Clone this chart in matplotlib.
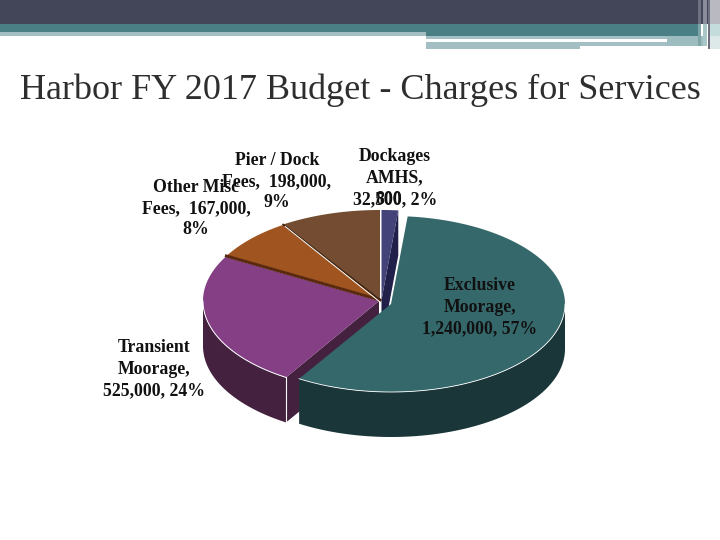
# Harbor FY 2017 budget slide - fake 3D exploded pie
import numpy as np
import matplotlib.pyplot as plt
from matplotlib.patches import Polygon, Rectangle

# -------------------------------
# DATA
# -------------------------------
names = ["Dockages", "AMHS", "Exclusive Moorage", "Transient Moorage", "Other Misc Fees", "Pier / Dock Fees"]
values = [32500, 500, 1240000, 525000, 167000, 198000]

title = "Harbor FY 2017 Budget - Charges for Services"
label_pier = "Pier / Dock\nFees,  198,000,\n9%"
label_other = "Other Misc\nFees,  167,000,\n8%"
label_dock = "Dockages\nAMHS,\n32,500, 2%"
label_amhs = "800"
label_excl = "Exclusive\nMoorage,\n1,240,000, 57%"
label_trans = "Transient\nMoorage,\n525,000, 24%"

top_colors = ["#43437a", "#20204a", "#35686b", "#843f85", "#a0541f", "#744c31"]
wall_colors = ["#20204a", "#20204a", "#1b3638", "#43213f", "#5a2a10", "#4a2e1c"]

# -------------------------------
# GEOMETRY
# -------------------------------
DEPTH = 45
centers = [(381.5, 300), (381.5, 300), (391, 304), (379, 301), (380, 300), (380, 300)]
radii = [(178, 90), (178, 90), (174, 88), (176, 90), (176, 90), (178, 90)]

plt.rcParams['font.family'] = ['Liberation Serif', 'DejaVu Serif']

fig = plt.figure(figsize=(7.2, 5.4), dpi=100)
ax = fig.add_axes([0, 0, 1, 1])
ax.set_xlim(0, 720)
ax.set_ylim(540, 0)
ax.axis("off")

# -------------------------------
# HEADER BANDS
# -------------------------------
def band(x0, x1, y0, y1, c):
    ax.add_patch(Rectangle((x0, y0), x1 - x0, y1 - y0, fc=c, ec="none"))

band(0, 720, 0, 24, "#434558")
band(0, 426, 24, 32, "#4a8085")
band(0, 426, 32, 36, "#a4bfc3")
band(426, 700, 24, 36, "#4a8085")
band(426, 700, 36, 39, "#a4bfc3")
band(426, 580, 42, 49, "#a4bfc3")
band(580, 705, 42, 46, "#a4bfc3")
band(667, 705, 36, 46, "#9cbcc0")
band(698, 701, 0, 24, "#6f7082")
band(698, 701, 24, 46, "#7fa5a8")
band(703, 707, 0, 24, "#8c8d9c")
band(703, 707, 24, 46, "#a9c6c8")
band(708, 710, 0, 49, "#6d6e7e")
band(710, 720, 0, 24, "#b9b9c2")
band(710, 720, 24, 36, "#c5dcdc")
band(710, 720, 36, 49, "#dde9e9")

ax.text(360, 90, title, ha="center", va="center", fontsize=26, color="#2e2e2e")

# -------------------------------
# PIE
# -------------------------------
def rim(i, a):
    a = np.radians(a)
    cx, cy = centers[i]
    rx, ry = radii[i]
    return cx + rx * np.sin(a), cy - ry * np.cos(a)

total = sum(values)
angles = np.cumsum([0] + values) / total * 360

def top_pts(i):
    t = np.linspace(angles[i], angles[i + 1], 120)
    x, y = rim(i, t)
    return np.column_stack([np.r_[centers[i][0], x], np.r_[centers[i][1], y]])

def outer_wall(i, c, z=2):
    a0 = max(angles[i], 90)
    a1 = min(angles[i + 1], 270)
    if a1 <= a0:
        return
    t = np.linspace(a0, a1, 120)
    x, y = rim(i, t)
    pts = np.column_stack([np.r_[x, x[::-1]], np.r_[y, y[::-1] + DEPTH]])
    ax.add_patch(Polygon(pts, fc=c, ec="none", zorder=z))

def cut_wall(i, a, c, z=2):
    cx, cy = centers[i]
    x, y = rim(i, a)
    pts = [(cx, cy), (x, y), (x, y + DEPTH), (cx, cy + DEPTH)]
    ax.add_patch(Polygon(pts, fc=c, ec="none", zorder=z))

# back to front: these cut walls sit under the exclusive slice
cut_wall(3, angles[3], wall_colors[3])
cut_wall(0, angles[1], wall_colors[0])
outer_wall(3, wall_colors[3])

for i in [5, 4, 3, 0]:
    ax.add_patch(Polygon(top_pts(i), fc=top_colors[i], ec="none", zorder=3))

# separators between the left slices
for i, c, w in [(4, "#5a2a10", 2.2), (5, "#3c2412", 1.2)]:
    x, y = rim(i, angles[i])
    ax.plot([centers[i][0], x], [centers[i][1], y], color=c, lw=w, zorder=4)
x, y = rim(5, angles[5])
ax.plot([centers[5][0], x + 2], [centers[5][1] + 2, y + 2], color="white", lw=0.7, zorder=4)

# white gap between the exclusive slice and what lies behind it
x, y = rim(2, angles[2])
ax.plot([centers[2][0], x], [centers[2][1], y], color="white", lw=1.6, zorder=5)

# exclusive slice goes on top
outer_wall(2, wall_colors[2], z=5)
ax.add_patch(Polygon(top_pts(2), fc=top_colors[2], ec="none", zorder=6))

# white highlights along the edges
t = np.linspace(angles[3], 270, 80)
x, y = rim(3, t)
ax.plot(x, y, color="white", lw=0.7, zorder=4)
x0, y0 = rim(3, angles[3])
ax.plot([x0, x0], [y0, y0 + DEPTH], color="white", lw=0.8, zorder=4)
t = np.linspace(90, angles[3], 120)
x, y = rim(2, t)
ax.plot(x, y, color="white", lw=0.6, zorder=7)

# -------------------------------
# LABELS
# -------------------------------
def label(x, y, s):
    ax.text(x, y, s, ha="center", va="center", fontsize=12.8, fontweight="bold",
            color="#111111", linespacing=1.34, zorder=10)

label(277, 181.5, label_pier)
label(196, 208.5, label_other)
label(395, 178, label_dock)
ax.text(389, 199.5, label_amhs, ha="center", va="center", fontsize=12.8,
        fontweight="bold", color="#111111", zorder=10)
label(480, 307, label_excl)
label(154, 369, label_trans)

plt.savefig("out.png", dpi=100)
